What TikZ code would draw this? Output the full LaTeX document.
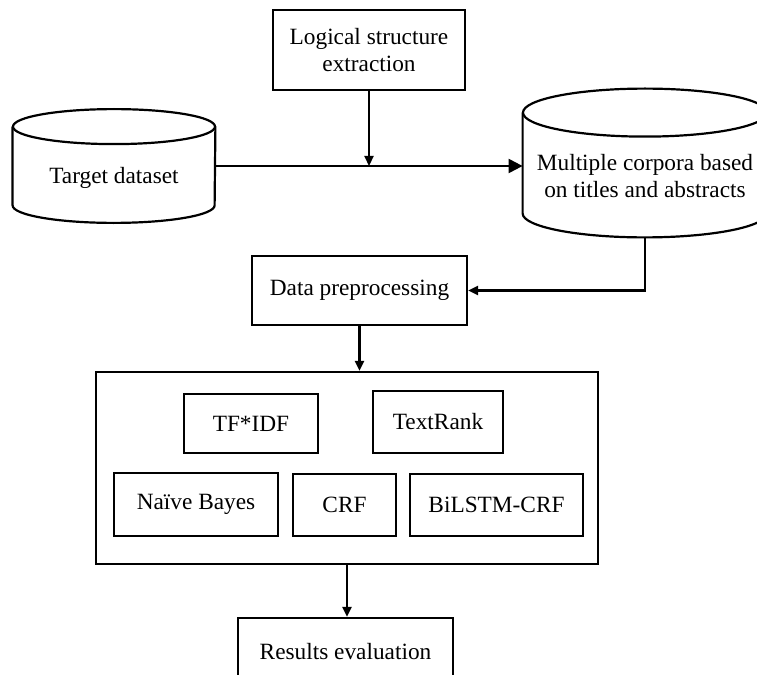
\documentclass[tikz,border=0pt]{standalone}
\usepackage{fontspec}
\setmainfont{Liberation Serif}
\usetikzlibrary{arrows.meta}

\tikzset{
  box/.style={draw, line width=1.1bp, rectangle, align=center, inner sep=0pt,
              font=\fontsize{11.7}{13.5}\selectfont},
  store/.style={rectangle, align=center, inner sep=0pt, text depth=0pt,
                font=\fontsize{11.7}{13.5}\selectfont},
  flow/.style={line width=1.1bp, -{Triangle[length=5bp,width=4.5bp]}}
}

\begin{document}
\begin{tikzpicture}[x=0.5bp, y=-0.5bp]
  \useasboundingbox (0,0) rectangle (757,675);
  \clip (0,0) rectangle (757,675);

  % sources
  \node[box, minimum width=96bp, minimum height=40bp] (lse) at (369,50)
       {Logical structure\\extraction};
  \node[store, text height=17bp, minimum width=101bp, minimum height=39bp] (tds) at (114,166)
       {Target dataset};
  \node[store, text height=34bp, minimum width=122bp, minimum height=50bp] (mcorp) at (645,163)
       {Multiple corpora based\\on titles and abstracts};
  \node[box, minimum width=107.5bp, minimum height=34.5bp] (dpp) at (359.5,290.5)
       {Data preprocessing};

  % cylinders round the two stores
  \draw[line width=1.1bp] (tds.north west) -- (tds.south west)
       arc[start angle=180, end angle=360, x radius=50.5bp, y radius=8.75bp]
       -- (tds.north east);
  \draw[line width=1.1bp] (tds.north) ellipse[x radius=50.5bp, y radius=8.75bp];
  \draw[line width=1.1bp] (mcorp.north west) -- (mcorp.south west)
       arc[start angle=180, end angle=360, x radius=61bp, y radius=12bp]
       -- (mcorp.north east);
  \draw[line width=1.1bp] (mcorp.north) ellipse[x radius=61bp, y radius=12bp];

  % methods
  \node[box, minimum width=251bp, minimum height=96bp] (models) at (347,468) {};
  \node[box, minimum width=67bp, minimum height=29.5bp] (tfidf) at (251,423.5) {TF*IDF};
  \node[box, minimum width=65bp, minimum height=31bp] (trank) at (438,422) {TextRank};
  \node[box, minimum width=82bp, minimum height=31.5bp] (nb) at (196,504.5) {Naïve Bayes};
  \node[box, minimum width=51.5bp, minimum height=31bp] (crf) at (344.5,505) {CRF};
  \node[box, minimum width=86.5bp, minimum height=31bp] (blc) at (496.5,505) {BiLSTM-CRF};

  \node[box, minimum width=107.5bp, minimum height=34bp] (res) at (345.5,652)
       {Results evaluation};

  % connectors
  \coordinate (join) at (lse.south |- tds.east);
  \coordinate (mbot) at ([yshift=-12bp]mcorp.south);
  \draw[line width=1.1bp, -{Triangle[length=7bp,width=7bp]}] (tds.east) -- (tds.east -| mcorp.west);
  \draw[flow] (lse.south) -- (join);
  \draw[flow] (mbot) |- (dpp.east);
  \draw[flow] (dpp.south) -- (dpp.south |- models.north);
  \draw[flow] (models.south) -- (models.south |- res.north);
\end{tikzpicture}
\end{document}
